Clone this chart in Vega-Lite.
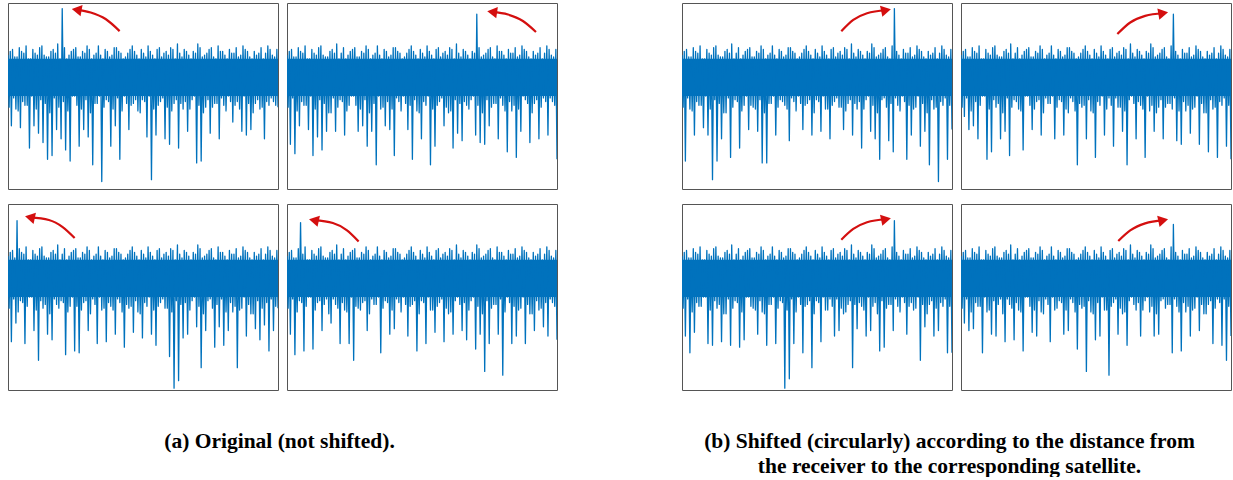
{
"$schema":"https://vega.github.io/schema/vega-lite/v6.json",
"padding":{"left":7,"top":2,"right":0,"bottom":0},
"background":"white",
"config":{"view":{"stroke":"#555555","strokeWidth":1},"title":{"font":"Liberation Serif","fontSize":21.5,"fontWeight":"bold","color":"#000000","lineHeight":25}},
"datasets":{
"core":[{"x0":0,"x1":239,"lo":50,"hi":70}],
"p1":[{"x":0,"y":72},{"x":1,"y":44},{"x":2,"y":74},{"x":3,"y":34},{"x":4,"y":75},{"x":5,"y":49},{"x":6,"y":71},{"x":7,"y":43},{"x":8,"y":71},{"x":9,"y":42},{"x":10,"y":76},{"x":11,"y":33},{"x":12,"y":74},{"x":13,"y":47},{"x":14,"y":73},{"x":15,"y":45},{"x":16,"y":77},{"x":17,"y":45},{"x":18,"y":70},{"x":19,"y":22},{"x":20,"y":70},{"x":21,"y":50},{"x":22,"y":75},{"x":23,"y":34},{"x":24,"y":73},{"x":25,"y":43},{"x":26,"y":72},{"x":27,"y":30},{"x":28,"y":76},{"x":29,"y":48},{"x":30,"y":77},{"x":31,"y":25},{"x":32,"y":72},{"x":33,"y":46},{"x":34,"y":71},{"x":35,"y":16},{"x":36,"y":71},{"x":37,"y":41},{"x":38,"y":74},{"x":39,"y":18},{"x":40,"y":75},{"x":41,"y":49},{"x":42,"y":73},{"x":43,"y":32},{"x":44,"y":78},{"x":45,"y":44},{"x":46,"y":70},{"x":47,"y":27},{"x":48,"y":97},{"x":49,"y":47},{"x":50,"y":76},{"x":51,"y":21},{"x":52,"y":70},{"x":53,"y":42},{"x":54,"y":72},{"x":55,"y":15},{"x":56,"y":74},{"x":57,"y":50},{"x":58,"y":75},{"x":59,"y":50},{"x":60,"y":76},{"x":61,"y":45},{"x":62,"y":71},{"x":63,"y":23},{"x":64,"y":71},{"x":65,"y":43},{"x":66,"y":74},{"x":67,"y":32},{"x":68,"y":73},{"x":69,"y":48},{"x":70,"y":77},{"x":71,"y":28},{"x":72,"y":75},{"x":73,"y":41},{"x":74,"y":70},{"x":75,"y":13},{"x":76,"y":72},{"x":77,"y":46},{"x":78,"y":73},{"x":79,"y":46},{"x":80,"y":77},{"x":81,"y":50},{"x":82,"y":72},{"x":83,"y":4},{"x":84,"y":70},{"x":85,"y":44},{"x":86,"y":75},{"x":87,"y":48},{"x":88,"y":74},{"x":89,"y":47},{"x":90,"y":71},{"x":91,"y":23},{"x":92,"y":72},{"x":93,"y":43},{"x":94,"y":76},{"x":95,"y":34},{"x":96,"y":76},{"x":97,"y":49},{"x":98,"y":74},{"x":99,"y":16},{"x":100,"y":73},{"x":101,"y":42},{"x":102,"y":70},{"x":103,"y":50},{"x":104,"y":71},{"x":105,"y":46},{"x":106,"y":73},{"x":107,"y":32},{"x":108,"y":75},{"x":109,"y":45},{"x":110,"y":77},{"x":111,"y":46},{"x":112,"y":74},{"x":113,"y":48},{"x":114,"y":72},{"x":115,"y":42},{"x":116,"y":70},{"x":117,"y":41},{"x":118,"y":75},{"x":119,"y":48},{"x":120,"y":73},{"x":121,"y":47},{"x":122,"y":71},{"x":123,"y":28},{"x":124,"y":77},{"x":125,"y":50},{"x":126,"y":74},{"x":127,"y":5},{"x":128,"y":72},{"x":129,"y":43},{"x":130,"y":70},{"x":131,"y":29},{"x":132,"y":75},{"x":133,"y":45},{"x":134,"y":76},{"x":135,"y":47},{"x":136,"y":71},{"x":137,"y":49},{"x":138,"y":73},{"x":139,"y":27},{"x":140,"y":74},{"x":141,"y":44},{"x":142,"y":72},{"x":143,"y":24},{"x":144,"y":76},{"x":145,"y":42},{"x":146,"y":75},{"x":147,"y":46},{"x":148,"y":70},{"x":149,"y":48},{"x":150,"y":78},{"x":151,"y":22},{"x":152,"y":73},{"x":153,"y":46},{"x":154,"y":71},{"x":155,"y":43},{"x":156,"y":75},{"x":157,"y":47},{"x":158,"y":74},{"x":159,"y":31},{"x":160,"y":72},{"x":161,"y":43},{"x":162,"y":70},{"x":163,"y":48},{"x":164,"y":74},{"x":165,"y":50},{"x":166,"y":73},{"x":167,"y":14},{"x":168,"y":78},{"x":169,"y":45},{"x":170,"y":76},{"x":171,"y":15},{"x":172,"y":71},{"x":173,"y":41},{"x":174,"y":72},{"x":175,"y":44},{"x":176,"y":73},{"x":177,"y":48},{"x":178,"y":75},{"x":179,"y":30},{"x":180,"y":76},{"x":181,"y":44},{"x":182,"y":71},{"x":183,"y":46},{"x":184,"y":70},{"x":185,"y":46},{"x":186,"y":77},{"x":187,"y":27},{"x":188,"y":74},{"x":189,"y":49},{"x":190,"y":74},{"x":191,"y":45},{"x":192,"y":72},{"x":193,"y":42},{"x":194,"y":70},{"x":195,"y":50},{"x":196,"y":75},{"x":197,"y":47},{"x":198,"y":73},{"x":199,"y":36},{"x":200,"y":73},{"x":201,"y":45},{"x":202,"y":76},{"x":203,"y":47},{"x":204,"y":71},{"x":205,"y":43},{"x":206,"y":72},{"x":207,"y":31},{"x":208,"y":77},{"x":209,"y":50},{"x":210,"y":75},{"x":211,"y":29},{"x":212,"y":74},{"x":213,"y":46},{"x":214,"y":71},{"x":215,"y":32},{"x":216,"y":70},{"x":217,"y":41},{"x":218,"y":74},{"x":219,"y":46},{"x":220,"y":72},{"x":221,"y":48},{"x":222,"y":73},{"x":223,"y":43},{"x":224,"y":76},{"x":225,"y":44},{"x":226,"y":70},{"x":227,"y":27},{"x":228,"y":73},{"x":229,"y":47},{"x":230,"y":77},{"x":231,"y":45},{"x":232,"y":75},{"x":233,"y":49},{"x":234,"y":72},{"x":235,"y":47},{"x":236,"y":71},{"x":237,"y":45},{"x":238,"y":75},{"x":239,"y":44}],
"p2":[{"x":0,"y":72},{"x":1,"y":44},{"x":2,"y":74},{"x":3,"y":24},{"x":4,"y":75},{"x":5,"y":49},{"x":6,"y":71},{"x":7,"y":19},{"x":8,"y":71},{"x":9,"y":42},{"x":10,"y":76},{"x":11,"y":34},{"x":12,"y":74},{"x":13,"y":47},{"x":14,"y":73},{"x":15,"y":45},{"x":16,"y":77},{"x":17,"y":45},{"x":18,"y":70},{"x":19,"y":32},{"x":20,"y":70},{"x":21,"y":50},{"x":22,"y":75},{"x":23,"y":18},{"x":24,"y":73},{"x":25,"y":43},{"x":26,"y":72},{"x":27,"y":28},{"x":28,"y":76},{"x":29,"y":48},{"x":30,"y":77},{"x":31,"y":21},{"x":32,"y":72},{"x":33,"y":46},{"x":34,"y":71},{"x":35,"y":31},{"x":36,"y":71},{"x":37,"y":41},{"x":38,"y":74},{"x":39,"y":41},{"x":40,"y":75},{"x":41,"y":49},{"x":42,"y":73},{"x":43,"y":31},{"x":44,"y":78},{"x":45,"y":44},{"x":46,"y":70},{"x":47,"y":48},{"x":48,"y":73},{"x":49,"y":47},{"x":50,"y":76},{"x":51,"y":29},{"x":52,"y":70},{"x":53,"y":42},{"x":54,"y":72},{"x":55,"y":45},{"x":56,"y":74},{"x":57,"y":50},{"x":58,"y":75},{"x":59,"y":50},{"x":60,"y":76},{"x":61,"y":45},{"x":62,"y":71},{"x":63,"y":31},{"x":64,"y":71},{"x":65,"y":43},{"x":66,"y":74},{"x":67,"y":34},{"x":68,"y":73},{"x":69,"y":48},{"x":70,"y":77},{"x":71,"y":23},{"x":72,"y":75},{"x":73,"y":41},{"x":74,"y":70},{"x":75,"y":31},{"x":76,"y":72},{"x":77,"y":46},{"x":78,"y":73},{"x":79,"y":13},{"x":80,"y":77},{"x":81,"y":50},{"x":82,"y":72},{"x":83,"y":43},{"x":84,"y":70},{"x":85,"y":44},{"x":86,"y":75},{"x":87,"y":34},{"x":88,"y":74},{"x":89,"y":47},{"x":90,"y":71},{"x":91,"y":32},{"x":92,"y":72},{"x":93,"y":43},{"x":94,"y":76},{"x":95,"y":18},{"x":96,"y":76},{"x":97,"y":49},{"x":98,"y":74},{"x":99,"y":47},{"x":100,"y":73},{"x":101,"y":42},{"x":102,"y":70},{"x":103,"y":50},{"x":104,"y":71},{"x":105,"y":46},{"x":106,"y":73},{"x":107,"y":32},{"x":108,"y":75},{"x":109,"y":45},{"x":110,"y":77},{"x":111,"y":16},{"x":112,"y":74},{"x":113,"y":48},{"x":114,"y":72},{"x":115,"y":42},{"x":116,"y":70},{"x":117,"y":41},{"x":118,"y":75},{"x":119,"y":27},{"x":120,"y":73},{"x":121,"y":47},{"x":122,"y":71},{"x":123,"y":45},{"x":124,"y":77},{"x":125,"y":50},{"x":126,"y":74},{"x":127,"y":13},{"x":128,"y":72},{"x":129,"y":43},{"x":130,"y":70},{"x":131,"y":23},{"x":132,"y":75},{"x":133,"y":45},{"x":134,"y":76},{"x":135,"y":47},{"x":136,"y":71},{"x":137,"y":49},{"x":138,"y":73},{"x":139,"y":34},{"x":140,"y":74},{"x":141,"y":44},{"x":142,"y":72},{"x":143,"y":41},{"x":144,"y":76},{"x":145,"y":42},{"x":146,"y":75},{"x":147,"y":22},{"x":148,"y":70},{"x":149,"y":48},{"x":150,"y":78},{"x":151,"y":30},{"x":152,"y":73},{"x":153,"y":46},{"x":154,"y":71},{"x":155,"y":26},{"x":156,"y":75},{"x":157,"y":47},{"x":158,"y":74},{"x":159,"y":45},{"x":160,"y":72},{"x":161,"y":43},{"x":162,"y":70},{"x":163,"y":48},{"x":164,"y":74},{"x":165,"y":50},{"x":166,"y":73},{"x":167,"y":29},{"x":168,"y":94},{"x":169,"y":45},{"x":170,"y":76},{"x":171,"y":25},{"x":172,"y":71},{"x":173,"y":41},{"x":174,"y":72},{"x":175,"y":24},{"x":176,"y":73},{"x":177,"y":48},{"x":178,"y":75},{"x":179,"y":34},{"x":180,"y":76},{"x":181,"y":44},{"x":182,"y":71},{"x":183,"y":46},{"x":184,"y":70},{"x":185,"y":46},{"x":186,"y":77},{"x":187,"y":27},{"x":188,"y":74},{"x":189,"y":49},{"x":190,"y":74},{"x":191,"y":45},{"x":192,"y":72},{"x":193,"y":42},{"x":194,"y":70},{"x":195,"y":20},{"x":196,"y":75},{"x":197,"y":47},{"x":198,"y":73},{"x":199,"y":42},{"x":200,"y":73},{"x":201,"y":45},{"x":202,"y":76},{"x":203,"y":17},{"x":204,"y":71},{"x":205,"y":43},{"x":206,"y":72},{"x":207,"y":31},{"x":208,"y":77},{"x":209,"y":50},{"x":210,"y":75},{"x":211,"y":48},{"x":212,"y":74},{"x":213,"y":46},{"x":214,"y":71},{"x":215,"y":25},{"x":216,"y":70},{"x":217,"y":41},{"x":218,"y":74},{"x":219,"y":46},{"x":220,"y":72},{"x":221,"y":48},{"x":222,"y":73},{"x":223,"y":27},{"x":224,"y":76},{"x":225,"y":44},{"x":226,"y":70},{"x":227,"y":49},{"x":228,"y":73},{"x":229,"y":47},{"x":230,"y":77},{"x":231,"y":29},{"x":232,"y":75},{"x":233,"y":49},{"x":234,"y":72},{"x":235,"y":47},{"x":236,"y":71},{"x":237,"y":45},{"x":238,"y":75},{"x":239,"y":16}],
"p3":[{"x":0,"y":72},{"x":1,"y":44},{"x":2,"y":74},{"x":3,"y":26},{"x":4,"y":75},{"x":5,"y":49},{"x":6,"y":71},{"x":7,"y":36},{"x":8,"y":91},{"x":9,"y":42},{"x":10,"y":76},{"x":11,"y":48},{"x":12,"y":74},{"x":13,"y":47},{"x":14,"y":73},{"x":15,"y":25},{"x":16,"y":77},{"x":17,"y":45},{"x":18,"y":70},{"x":19,"y":50},{"x":20,"y":70},{"x":21,"y":50},{"x":22,"y":75},{"x":23,"y":32},{"x":24,"y":73},{"x":25,"y":43},{"x":26,"y":72},{"x":27,"y":16},{"x":28,"y":76},{"x":29,"y":48},{"x":30,"y":77},{"x":31,"y":44},{"x":32,"y":72},{"x":33,"y":46},{"x":34,"y":71},{"x":35,"y":30},{"x":36,"y":71},{"x":37,"y":41},{"x":38,"y":74},{"x":39,"y":27},{"x":40,"y":75},{"x":41,"y":49},{"x":42,"y":73},{"x":43,"y":46},{"x":44,"y":78},{"x":45,"y":44},{"x":46,"y":70},{"x":47,"y":48},{"x":48,"y":73},{"x":49,"y":47},{"x":50,"y":76},{"x":51,"y":19},{"x":52,"y":70},{"x":53,"y":42},{"x":54,"y":72},{"x":55,"y":45},{"x":56,"y":74},{"x":57,"y":50},{"x":58,"y":75},{"x":59,"y":21},{"x":60,"y":76},{"x":61,"y":45},{"x":62,"y":71},{"x":63,"y":20},{"x":64,"y":71},{"x":65,"y":43},{"x":66,"y":74},{"x":67,"y":47},{"x":68,"y":73},{"x":69,"y":48},{"x":70,"y":77},{"x":71,"y":32},{"x":72,"y":75},{"x":73,"y":41},{"x":74,"y":70},{"x":75,"y":49},{"x":76,"y":72},{"x":77,"y":46},{"x":78,"y":73},{"x":79,"y":25},{"x":80,"y":77},{"x":81,"y":50},{"x":82,"y":72},{"x":83,"y":43},{"x":84,"y":70},{"x":85,"y":44},{"x":86,"y":75},{"x":87,"y":26},{"x":88,"y":74},{"x":89,"y":47},{"x":90,"y":71},{"x":91,"y":45},{"x":92,"y":72},{"x":93,"y":43},{"x":94,"y":76},{"x":95,"y":30},{"x":96,"y":76},{"x":97,"y":49},{"x":98,"y":74},{"x":99,"y":47},{"x":100,"y":73},{"x":101,"y":42},{"x":102,"y":70},{"x":103,"y":23},{"x":104,"y":71},{"x":105,"y":46},{"x":106,"y":73},{"x":107,"y":44},{"x":108,"y":75},{"x":109,"y":45},{"x":110,"y":77},{"x":111,"y":31},{"x":112,"y":74},{"x":113,"y":48},{"x":114,"y":72},{"x":115,"y":42},{"x":116,"y":70},{"x":117,"y":41},{"x":118,"y":75},{"x":119,"y":28},{"x":120,"y":73},{"x":121,"y":47},{"x":122,"y":71},{"x":123,"y":45},{"x":124,"y":77},{"x":125,"y":50},{"x":126,"y":74},{"x":127,"y":30},{"x":128,"y":72},{"x":129,"y":43},{"x":130,"y":70},{"x":131,"y":24},{"x":132,"y":75},{"x":133,"y":45},{"x":134,"y":76},{"x":135,"y":47},{"x":136,"y":71},{"x":137,"y":49},{"x":138,"y":73},{"x":139,"y":44},{"x":140,"y":74},{"x":141,"y":44},{"x":142,"y":72},{"x":143,"y":18},{"x":144,"y":76},{"x":145,"y":42},{"x":146,"y":75},{"x":147,"y":1},{"x":148,"y":70},{"x":149,"y":48},{"x":150,"y":78},{"x":151,"y":5},{"x":152,"y":73},{"x":153,"y":46},{"x":154,"y":71},{"x":155,"y":28},{"x":156,"y":75},{"x":157,"y":47},{"x":158,"y":74},{"x":159,"y":30},{"x":160,"y":72},{"x":161,"y":43},{"x":162,"y":70},{"x":163,"y":48},{"x":164,"y":74},{"x":165,"y":50},{"x":166,"y":73},{"x":167,"y":34},{"x":168,"y":78},{"x":169,"y":45},{"x":170,"y":76},{"x":171,"y":12},{"x":172,"y":71},{"x":173,"y":41},{"x":174,"y":72},{"x":175,"y":32},{"x":176,"y":73},{"x":177,"y":48},{"x":178,"y":75},{"x":179,"y":49},{"x":180,"y":76},{"x":181,"y":44},{"x":182,"y":71},{"x":183,"y":23},{"x":184,"y":70},{"x":185,"y":46},{"x":186,"y":77},{"x":187,"y":34},{"x":188,"y":74},{"x":189,"y":49},{"x":190,"y":74},{"x":191,"y":24},{"x":192,"y":72},{"x":193,"y":42},{"x":194,"y":70},{"x":195,"y":32},{"x":196,"y":75},{"x":197,"y":47},{"x":198,"y":73},{"x":199,"y":42},{"x":200,"y":73},{"x":201,"y":45},{"x":202,"y":76},{"x":203,"y":12},{"x":204,"y":71},{"x":205,"y":43},{"x":206,"y":72},{"x":207,"y":44},{"x":208,"y":77},{"x":209,"y":50},{"x":210,"y":75},{"x":211,"y":29},{"x":212,"y":74},{"x":213,"y":46},{"x":214,"y":71},{"x":215,"y":41},{"x":216,"y":70},{"x":217,"y":41},{"x":218,"y":74},{"x":219,"y":33},{"x":220,"y":72},{"x":221,"y":48},{"x":222,"y":73},{"x":223,"y":27},{"x":224,"y":76},{"x":225,"y":44},{"x":226,"y":70},{"x":227,"y":35},{"x":228,"y":73},{"x":229,"y":47},{"x":230,"y":77},{"x":231,"y":21},{"x":232,"y":75},{"x":233,"y":49},{"x":234,"y":72},{"x":235,"y":32},{"x":236,"y":71},{"x":237,"y":45},{"x":238,"y":75},{"x":239,"y":44}],
"p4":[{"x":0,"y":72},{"x":1,"y":44},{"x":2,"y":74},{"x":3,"y":30},{"x":4,"y":75},{"x":5,"y":49},{"x":6,"y":71},{"x":7,"y":19},{"x":8,"y":71},{"x":9,"y":42},{"x":10,"y":76},{"x":11,"y":48},{"x":12,"y":90},{"x":13,"y":47},{"x":14,"y":73},{"x":15,"y":21},{"x":16,"y":77},{"x":17,"y":45},{"x":18,"y":70},{"x":19,"y":50},{"x":20,"y":70},{"x":21,"y":50},{"x":22,"y":75},{"x":23,"y":22},{"x":24,"y":73},{"x":25,"y":43},{"x":26,"y":72},{"x":27,"y":47},{"x":28,"y":76},{"x":29,"y":48},{"x":30,"y":77},{"x":31,"y":32},{"x":32,"y":72},{"x":33,"y":46},{"x":34,"y":71},{"x":35,"y":49},{"x":36,"y":71},{"x":37,"y":41},{"x":38,"y":74},{"x":39,"y":36},{"x":40,"y":75},{"x":41,"y":49},{"x":42,"y":73},{"x":43,"y":46},{"x":44,"y":78},{"x":45,"y":44},{"x":46,"y":70},{"x":47,"y":25},{"x":48,"y":73},{"x":49,"y":47},{"x":50,"y":76},{"x":51,"y":43},{"x":52,"y":70},{"x":53,"y":42},{"x":54,"y":72},{"x":55,"y":25},{"x":56,"y":74},{"x":57,"y":50},{"x":58,"y":75},{"x":59,"y":16},{"x":60,"y":76},{"x":61,"y":45},{"x":62,"y":71},{"x":63,"y":44},{"x":64,"y":71},{"x":65,"y":43},{"x":66,"y":74},{"x":67,"y":47},{"x":68,"y":73},{"x":69,"y":48},{"x":70,"y":77},{"x":71,"y":32},{"x":72,"y":75},{"x":73,"y":41},{"x":74,"y":70},{"x":75,"y":49},{"x":76,"y":72},{"x":77,"y":46},{"x":78,"y":73},{"x":79,"y":46},{"x":80,"y":77},{"x":81,"y":50},{"x":82,"y":72},{"x":83,"y":20},{"x":84,"y":70},{"x":85,"y":44},{"x":86,"y":75},{"x":87,"y":48},{"x":88,"y":74},{"x":89,"y":47},{"x":90,"y":71},{"x":91,"y":30},{"x":92,"y":72},{"x":93,"y":43},{"x":94,"y":76},{"x":95,"y":33},{"x":96,"y":76},{"x":97,"y":49},{"x":98,"y":74},{"x":99,"y":47},{"x":100,"y":73},{"x":101,"y":42},{"x":102,"y":70},{"x":103,"y":50},{"x":104,"y":71},{"x":105,"y":46},{"x":106,"y":73},{"x":107,"y":29},{"x":108,"y":75},{"x":109,"y":45},{"x":110,"y":77},{"x":111,"y":46},{"x":112,"y":74},{"x":113,"y":48},{"x":114,"y":72},{"x":115,"y":21},{"x":116,"y":70},{"x":117,"y":41},{"x":118,"y":75},{"x":119,"y":48},{"x":120,"y":73},{"x":121,"y":47},{"x":122,"y":71},{"x":123,"y":25},{"x":124,"y":77},{"x":125,"y":50},{"x":126,"y":74},{"x":127,"y":43},{"x":128,"y":72},{"x":129,"y":43},{"x":130,"y":70},{"x":131,"y":31},{"x":132,"y":75},{"x":133,"y":45},{"x":134,"y":76},{"x":135,"y":47},{"x":136,"y":71},{"x":137,"y":49},{"x":138,"y":73},{"x":139,"y":26},{"x":140,"y":74},{"x":141,"y":44},{"x":142,"y":72},{"x":143,"y":41},{"x":144,"y":76},{"x":145,"y":42},{"x":146,"y":75},{"x":147,"y":30},{"x":148,"y":70},{"x":149,"y":48},{"x":150,"y":78},{"x":151,"y":50},{"x":152,"y":73},{"x":153,"y":46},{"x":154,"y":71},{"x":155,"y":32},{"x":156,"y":75},{"x":157,"y":47},{"x":158,"y":74},{"x":159,"y":27},{"x":160,"y":72},{"x":161,"y":43},{"x":162,"y":70},{"x":163,"y":48},{"x":164,"y":74},{"x":165,"y":50},{"x":166,"y":73},{"x":167,"y":22},{"x":168,"y":78},{"x":169,"y":45},{"x":170,"y":76},{"x":171,"y":30},{"x":172,"y":71},{"x":173,"y":41},{"x":174,"y":72},{"x":175,"y":10},{"x":176,"y":73},{"x":177,"y":48},{"x":178,"y":75},{"x":179,"y":25},{"x":180,"y":76},{"x":181,"y":44},{"x":182,"y":71},{"x":183,"y":46},{"x":184,"y":70},{"x":185,"y":46},{"x":186,"y":77},{"x":187,"y":30},{"x":188,"y":74},{"x":189,"y":49},{"x":190,"y":74},{"x":191,"y":8},{"x":192,"y":72},{"x":193,"y":42},{"x":194,"y":70},{"x":195,"y":50},{"x":196,"y":75},{"x":197,"y":47},{"x":198,"y":73},{"x":199,"y":25},{"x":200,"y":73},{"x":201,"y":45},{"x":202,"y":76},{"x":203,"y":29},{"x":204,"y":71},{"x":205,"y":43},{"x":206,"y":72},{"x":207,"y":44},{"x":208,"y":77},{"x":209,"y":50},{"x":210,"y":75},{"x":211,"y":25},{"x":212,"y":74},{"x":213,"y":46},{"x":214,"y":71},{"x":215,"y":41},{"x":216,"y":70},{"x":217,"y":41},{"x":218,"y":74},{"x":219,"y":32},{"x":220,"y":72},{"x":221,"y":48},{"x":222,"y":73},{"x":223,"y":43},{"x":224,"y":76},{"x":225,"y":44},{"x":226,"y":70},{"x":227,"y":34},{"x":228,"y":73},{"x":229,"y":47},{"x":230,"y":77},{"x":231,"y":29},{"x":232,"y":75},{"x":233,"y":49},{"x":234,"y":72},{"x":235,"y":47},{"x":236,"y":71},{"x":237,"y":45},{"x":238,"y":75},{"x":239,"y":27}],
"p5":[{"x":0,"y":72},{"x":1,"y":44},{"x":2,"y":74},{"x":3,"y":15},{"x":4,"y":75},{"x":5,"y":49},{"x":6,"y":71},{"x":7,"y":43},{"x":8,"y":71},{"x":9,"y":42},{"x":10,"y":76},{"x":11,"y":29},{"x":12,"y":74},{"x":13,"y":47},{"x":14,"y":73},{"x":15,"y":45},{"x":16,"y":77},{"x":17,"y":45},{"x":18,"y":70},{"x":19,"y":33},{"x":20,"y":70},{"x":21,"y":50},{"x":22,"y":75},{"x":23,"y":29},{"x":24,"y":73},{"x":25,"y":43},{"x":26,"y":72},{"x":27,"y":5},{"x":28,"y":76},{"x":29,"y":48},{"x":30,"y":77},{"x":31,"y":15},{"x":32,"y":72},{"x":33,"y":46},{"x":34,"y":71},{"x":35,"y":27},{"x":36,"y":71},{"x":37,"y":41},{"x":38,"y":74},{"x":39,"y":41},{"x":40,"y":75},{"x":41,"y":49},{"x":42,"y":73},{"x":43,"y":17},{"x":44,"y":78},{"x":45,"y":44},{"x":46,"y":70},{"x":47,"y":48},{"x":48,"y":73},{"x":49,"y":47},{"x":50,"y":76},{"x":51,"y":22},{"x":52,"y":70},{"x":53,"y":42},{"x":54,"y":72},{"x":55,"y":45},{"x":56,"y":74},{"x":57,"y":50},{"x":58,"y":75},{"x":59,"y":32},{"x":60,"y":76},{"x":61,"y":45},{"x":62,"y":71},{"x":63,"y":44},{"x":64,"y":71},{"x":65,"y":43},{"x":66,"y":74},{"x":67,"y":31},{"x":68,"y":73},{"x":69,"y":48},{"x":70,"y":77},{"x":71,"y":14},{"x":72,"y":75},{"x":73,"y":41},{"x":74,"y":70},{"x":75,"y":14},{"x":76,"y":72},{"x":77,"y":46},{"x":78,"y":73},{"x":79,"y":46},{"x":80,"y":77},{"x":81,"y":50},{"x":82,"y":72},{"x":83,"y":29},{"x":84,"y":70},{"x":85,"y":44},{"x":86,"y":75},{"x":87,"y":48},{"x":88,"y":74},{"x":89,"y":47},{"x":90,"y":71},{"x":91,"y":45},{"x":92,"y":72},{"x":93,"y":43},{"x":94,"y":76},{"x":95,"y":26},{"x":96,"y":76},{"x":97,"y":49},{"x":98,"y":74},{"x":99,"y":47},{"x":100,"y":73},{"x":101,"y":42},{"x":102,"y":70},{"x":103,"y":50},{"x":104,"y":71},{"x":105,"y":46},{"x":106,"y":73},{"x":107,"y":32},{"x":108,"y":75},{"x":109,"y":45},{"x":110,"y":77},{"x":111,"y":46},{"x":112,"y":74},{"x":113,"y":48},{"x":114,"y":72},{"x":115,"y":29},{"x":116,"y":70},{"x":117,"y":41},{"x":118,"y":75},{"x":119,"y":48},{"x":120,"y":73},{"x":121,"y":47},{"x":122,"y":71},{"x":123,"y":31},{"x":124,"y":77},{"x":125,"y":50},{"x":126,"y":74},{"x":127,"y":43},{"x":128,"y":72},{"x":129,"y":43},{"x":130,"y":70},{"x":131,"y":27},{"x":132,"y":75},{"x":133,"y":45},{"x":134,"y":76},{"x":135,"y":47},{"x":136,"y":71},{"x":137,"y":49},{"x":138,"y":73},{"x":139,"y":44},{"x":140,"y":74},{"x":141,"y":44},{"x":142,"y":72},{"x":143,"y":32},{"x":144,"y":76},{"x":145,"y":42},{"x":146,"y":75},{"x":147,"y":46},{"x":148,"y":70},{"x":149,"y":48},{"x":150,"y":78},{"x":151,"y":29},{"x":152,"y":73},{"x":153,"y":46},{"x":154,"y":71},{"x":155,"y":43},{"x":156,"y":75},{"x":157,"y":47},{"x":158,"y":74},{"x":159,"y":22},{"x":160,"y":72},{"x":161,"y":43},{"x":162,"y":70},{"x":163,"y":48},{"x":164,"y":74},{"x":165,"y":50},{"x":166,"y":73},{"x":167,"y":31},{"x":168,"y":78},{"x":169,"y":45},{"x":170,"y":76},{"x":171,"y":27},{"x":172,"y":71},{"x":173,"y":41},{"x":174,"y":72},{"x":175,"y":16},{"x":176,"y":73},{"x":177,"y":48},{"x":178,"y":75},{"x":179,"y":49},{"x":180,"y":76},{"x":181,"y":44},{"x":182,"y":71},{"x":183,"y":26},{"x":184,"y":70},{"x":185,"y":46},{"x":186,"y":77},{"x":187,"y":20},{"x":188,"y":97},{"x":189,"y":49},{"x":190,"y":74},{"x":191,"y":45},{"x":192,"y":72},{"x":193,"y":42},{"x":194,"y":70},{"x":195,"y":50},{"x":196,"y":75},{"x":197,"y":47},{"x":198,"y":73},{"x":199,"y":16},{"x":200,"y":73},{"x":201,"y":45},{"x":202,"y":76},{"x":203,"y":29},{"x":204,"y":71},{"x":205,"y":43},{"x":206,"y":72},{"x":207,"y":44},{"x":208,"y":77},{"x":209,"y":50},{"x":210,"y":75},{"x":211,"y":23},{"x":212,"y":74},{"x":213,"y":46},{"x":214,"y":71},{"x":215,"y":31},{"x":216,"y":70},{"x":217,"y":41},{"x":218,"y":74},{"x":219,"y":13},{"x":220,"y":72},{"x":221,"y":48},{"x":222,"y":73},{"x":223,"y":43},{"x":224,"y":76},{"x":225,"y":44},{"x":226,"y":70},{"x":227,"y":4},{"x":228,"y":73},{"x":229,"y":47},{"x":230,"y":77},{"x":231,"y":45},{"x":232,"y":75},{"x":233,"y":49},{"x":234,"y":72},{"x":235,"y":16},{"x":236,"y":71},{"x":237,"y":45},{"x":238,"y":75},{"x":239,"y":32}],
"p6":[{"x":0,"y":72},{"x":1,"y":44},{"x":2,"y":74},{"x":3,"y":39},{"x":4,"y":75},{"x":5,"y":49},{"x":6,"y":71},{"x":7,"y":32},{"x":8,"y":71},{"x":9,"y":42},{"x":10,"y":76},{"x":11,"y":34},{"x":12,"y":74},{"x":13,"y":47},{"x":14,"y":73},{"x":15,"y":27},{"x":16,"y":77},{"x":17,"y":45},{"x":18,"y":70},{"x":19,"y":50},{"x":20,"y":70},{"x":21,"y":50},{"x":22,"y":75},{"x":23,"y":16},{"x":24,"y":73},{"x":25,"y":43},{"x":26,"y":72},{"x":27,"y":20},{"x":28,"y":76},{"x":29,"y":48},{"x":30,"y":77},{"x":31,"y":44},{"x":32,"y":72},{"x":33,"y":46},{"x":34,"y":71},{"x":35,"y":27},{"x":36,"y":71},{"x":37,"y":41},{"x":38,"y":74},{"x":39,"y":31},{"x":40,"y":75},{"x":41,"y":49},{"x":42,"y":73},{"x":43,"y":18},{"x":44,"y":78},{"x":45,"y":44},{"x":46,"y":70},{"x":47,"y":48},{"x":48,"y":73},{"x":49,"y":47},{"x":50,"y":76},{"x":51,"y":43},{"x":52,"y":70},{"x":53,"y":42},{"x":54,"y":72},{"x":55,"y":21},{"x":56,"y":74},{"x":57,"y":50},{"x":58,"y":75},{"x":59,"y":50},{"x":60,"y":76},{"x":61,"y":45},{"x":62,"y":71},{"x":63,"y":32},{"x":64,"y":71},{"x":65,"y":43},{"x":66,"y":74},{"x":67,"y":47},{"x":68,"y":73},{"x":69,"y":48},{"x":70,"y":77},{"x":71,"y":29},{"x":72,"y":75},{"x":73,"y":41},{"x":74,"y":70},{"x":75,"y":49},{"x":76,"y":72},{"x":77,"y":46},{"x":78,"y":73},{"x":79,"y":46},{"x":80,"y":77},{"x":81,"y":50},{"x":82,"y":72},{"x":83,"y":27},{"x":84,"y":70},{"x":85,"y":44},{"x":86,"y":75},{"x":87,"y":48},{"x":88,"y":74},{"x":89,"y":47},{"x":90,"y":71},{"x":91,"y":29},{"x":92,"y":72},{"x":93,"y":43},{"x":94,"y":76},{"x":95,"y":41},{"x":96,"y":76},{"x":97,"y":49},{"x":98,"y":74},{"x":99,"y":47},{"x":100,"y":73},{"x":101,"y":42},{"x":102,"y":70},{"x":103,"y":13},{"x":104,"y":71},{"x":105,"y":46},{"x":106,"y":73},{"x":107,"y":44},{"x":108,"y":75},{"x":109,"y":45},{"x":110,"y":77},{"x":111,"y":27},{"x":112,"y":74},{"x":113,"y":48},{"x":114,"y":72},{"x":115,"y":42},{"x":116,"y":70},{"x":117,"y":41},{"x":118,"y":75},{"x":119,"y":17},{"x":120,"y":73},{"x":121,"y":47},{"x":122,"y":71},{"x":123,"y":45},{"x":124,"y":77},{"x":125,"y":50},{"x":126,"y":74},{"x":127,"y":29},{"x":128,"y":72},{"x":129,"y":43},{"x":130,"y":70},{"x":131,"y":49},{"x":132,"y":75},{"x":133,"y":45},{"x":134,"y":76},{"x":135,"y":23},{"x":136,"y":71},{"x":137,"y":49},{"x":138,"y":73},{"x":139,"y":44},{"x":140,"y":74},{"x":141,"y":44},{"x":142,"y":72},{"x":143,"y":31},{"x":144,"y":76},{"x":145,"y":42},{"x":146,"y":75},{"x":147,"y":13},{"x":148,"y":70},{"x":149,"y":48},{"x":150,"y":78},{"x":151,"y":50},{"x":152,"y":73},{"x":153,"y":46},{"x":154,"y":71},{"x":155,"y":27},{"x":156,"y":75},{"x":157,"y":47},{"x":158,"y":74},{"x":159,"y":45},{"x":160,"y":72},{"x":161,"y":43},{"x":162,"y":70},{"x":163,"y":17},{"x":164,"y":74},{"x":165,"y":50},{"x":166,"y":73},{"x":167,"y":42},{"x":168,"y":78},{"x":169,"y":45},{"x":170,"y":76},{"x":171,"y":31},{"x":172,"y":71},{"x":173,"y":41},{"x":174,"y":72},{"x":175,"y":44},{"x":176,"y":73},{"x":177,"y":48},{"x":178,"y":75},{"x":179,"y":27},{"x":180,"y":76},{"x":181,"y":44},{"x":182,"y":71},{"x":183,"y":46},{"x":184,"y":70},{"x":185,"y":46},{"x":186,"y":77},{"x":187,"y":43},{"x":188,"y":94},{"x":189,"y":49},{"x":190,"y":74},{"x":191,"y":26},{"x":192,"y":72},{"x":193,"y":42},{"x":194,"y":70},{"x":195,"y":24},{"x":196,"y":75},{"x":197,"y":47},{"x":198,"y":73},{"x":199,"y":42},{"x":200,"y":73},{"x":201,"y":45},{"x":202,"y":76},{"x":203,"y":30},{"x":204,"y":71},{"x":205,"y":43},{"x":206,"y":72},{"x":207,"y":44},{"x":208,"y":77},{"x":209,"y":50},{"x":210,"y":75},{"x":211,"y":24},{"x":212,"y":74},{"x":213,"y":46},{"x":214,"y":71},{"x":215,"y":41},{"x":216,"y":70},{"x":217,"y":41},{"x":218,"y":74},{"x":219,"y":20},{"x":220,"y":72},{"x":221,"y":48},{"x":222,"y":73},{"x":223,"y":43},{"x":224,"y":76},{"x":225,"y":44},{"x":226,"y":70},{"x":227,"y":17},{"x":228,"y":73},{"x":229,"y":47},{"x":230,"y":77},{"x":231,"y":45},{"x":232,"y":75},{"x":233,"y":49},{"x":234,"y":72},{"x":235,"y":23},{"x":236,"y":71},{"x":237,"y":45},{"x":238,"y":75},{"x":239,"y":16}],
"p7":[{"x":0,"y":72},{"x":1,"y":44},{"x":2,"y":74},{"x":3,"y":29},{"x":4,"y":75},{"x":5,"y":49},{"x":6,"y":71},{"x":7,"y":20},{"x":8,"y":71},{"x":9,"y":42},{"x":10,"y":76},{"x":11,"y":31},{"x":12,"y":74},{"x":13,"y":47},{"x":14,"y":73},{"x":15,"y":45},{"x":16,"y":77},{"x":17,"y":45},{"x":18,"y":70},{"x":19,"y":50},{"x":20,"y":70},{"x":21,"y":50},{"x":22,"y":75},{"x":23,"y":25},{"x":24,"y":73},{"x":25,"y":43},{"x":26,"y":72},{"x":27,"y":24},{"x":28,"y":76},{"x":29,"y":48},{"x":30,"y":77},{"x":31,"y":44},{"x":32,"y":72},{"x":33,"y":46},{"x":34,"y":71},{"x":35,"y":26},{"x":36,"y":71},{"x":37,"y":41},{"x":38,"y":74},{"x":39,"y":41},{"x":40,"y":75},{"x":41,"y":49},{"x":42,"y":73},{"x":43,"y":24},{"x":44,"y":78},{"x":45,"y":44},{"x":46,"y":70},{"x":47,"y":48},{"x":48,"y":73},{"x":49,"y":47},{"x":50,"y":76},{"x":51,"y":23},{"x":52,"y":70},{"x":53,"y":42},{"x":54,"y":72},{"x":55,"y":27},{"x":56,"y":74},{"x":57,"y":50},{"x":58,"y":75},{"x":59,"y":50},{"x":60,"y":76},{"x":61,"y":45},{"x":62,"y":71},{"x":63,"y":44},{"x":64,"y":71},{"x":65,"y":43},{"x":66,"y":74},{"x":67,"y":30},{"x":68,"y":73},{"x":69,"y":48},{"x":70,"y":77},{"x":71,"y":42},{"x":72,"y":75},{"x":73,"y":41},{"x":74,"y":70},{"x":75,"y":24},{"x":76,"y":72},{"x":77,"y":46},{"x":78,"y":73},{"x":79,"y":46},{"x":80,"y":77},{"x":81,"y":50},{"x":82,"y":72},{"x":83,"y":25},{"x":84,"y":70},{"x":85,"y":44},{"x":86,"y":75},{"x":87,"y":48},{"x":88,"y":74},{"x":89,"y":47},{"x":90,"y":71},{"x":91,"y":1},{"x":92,"y":72},{"x":93,"y":43},{"x":94,"y":76},{"x":95,"y":6},{"x":96,"y":76},{"x":97,"y":49},{"x":98,"y":74},{"x":99,"y":25},{"x":100,"y":73},{"x":101,"y":42},{"x":102,"y":70},{"x":103,"y":50},{"x":104,"y":71},{"x":105,"y":46},{"x":106,"y":73},{"x":107,"y":20},{"x":108,"y":75},{"x":109,"y":45},{"x":110,"y":77},{"x":111,"y":46},{"x":112,"y":74},{"x":113,"y":48},{"x":114,"y":72},{"x":115,"y":12},{"x":116,"y":70},{"x":117,"y":41},{"x":118,"y":75},{"x":119,"y":48},{"x":120,"y":73},{"x":121,"y":47},{"x":122,"y":71},{"x":123,"y":26},{"x":124,"y":77},{"x":125,"y":50},{"x":126,"y":74},{"x":127,"y":43},{"x":128,"y":72},{"x":129,"y":43},{"x":130,"y":70},{"x":131,"y":49},{"x":132,"y":75},{"x":133,"y":45},{"x":134,"y":76},{"x":135,"y":29},{"x":136,"y":71},{"x":137,"y":49},{"x":138,"y":73},{"x":139,"y":32},{"x":140,"y":74},{"x":141,"y":44},{"x":142,"y":72},{"x":143,"y":41},{"x":144,"y":76},{"x":145,"y":42},{"x":146,"y":75},{"x":147,"y":46},{"x":148,"y":70},{"x":149,"y":48},{"x":150,"y":78},{"x":151,"y":12},{"x":152,"y":73},{"x":153,"y":46},{"x":154,"y":71},{"x":155,"y":33},{"x":156,"y":75},{"x":157,"y":47},{"x":158,"y":74},{"x":159,"y":45},{"x":160,"y":72},{"x":161,"y":43},{"x":162,"y":70},{"x":163,"y":29},{"x":164,"y":74},{"x":165,"y":50},{"x":166,"y":73},{"x":167,"y":32},{"x":168,"y":78},{"x":169,"y":45},{"x":170,"y":76},{"x":171,"y":47},{"x":172,"y":71},{"x":173,"y":41},{"x":174,"y":72},{"x":175,"y":21},{"x":176,"y":73},{"x":177,"y":48},{"x":178,"y":75},{"x":179,"y":23},{"x":180,"y":76},{"x":181,"y":44},{"x":182,"y":71},{"x":183,"y":46},{"x":184,"y":70},{"x":185,"y":46},{"x":186,"y":77},{"x":187,"y":32},{"x":188,"y":91},{"x":189,"y":49},{"x":190,"y":74},{"x":191,"y":45},{"x":192,"y":72},{"x":193,"y":42},{"x":194,"y":70},{"x":195,"y":50},{"x":196,"y":75},{"x":197,"y":47},{"x":198,"y":73},{"x":199,"y":30},{"x":200,"y":73},{"x":201,"y":45},{"x":202,"y":76},{"x":203,"y":47},{"x":204,"y":71},{"x":205,"y":43},{"x":206,"y":72},{"x":207,"y":44},{"x":208,"y":77},{"x":209,"y":50},{"x":210,"y":75},{"x":211,"y":16},{"x":212,"y":74},{"x":213,"y":46},{"x":214,"y":71},{"x":215,"y":34},{"x":216,"y":70},{"x":217,"y":41},{"x":218,"y":74},{"x":219,"y":46},{"x":220,"y":72},{"x":221,"y":48},{"x":222,"y":73},{"x":223,"y":29},{"x":224,"y":76},{"x":225,"y":44},{"x":226,"y":70},{"x":227,"y":32},{"x":228,"y":73},{"x":229,"y":47},{"x":230,"y":77},{"x":231,"y":45},{"x":232,"y":75},{"x":233,"y":49},{"x":234,"y":72},{"x":235,"y":20},{"x":236,"y":71},{"x":237,"y":45},{"x":238,"y":75},{"x":239,"y":20}],
"p8":[{"x":0,"y":72},{"x":1,"y":44},{"x":2,"y":74},{"x":3,"y":36},{"x":4,"y":75},{"x":5,"y":49},{"x":6,"y":71},{"x":7,"y":32},{"x":8,"y":71},{"x":9,"y":42},{"x":10,"y":76},{"x":11,"y":33},{"x":12,"y":74},{"x":13,"y":47},{"x":14,"y":73},{"x":15,"y":45},{"x":16,"y":77},{"x":17,"y":45},{"x":18,"y":70},{"x":19,"y":20},{"x":20,"y":70},{"x":21,"y":50},{"x":22,"y":75},{"x":23,"y":42},{"x":24,"y":73},{"x":25,"y":43},{"x":26,"y":72},{"x":27,"y":30},{"x":28,"y":76},{"x":29,"y":48},{"x":30,"y":77},{"x":31,"y":29},{"x":32,"y":72},{"x":33,"y":46},{"x":34,"y":71},{"x":35,"y":49},{"x":36,"y":71},{"x":37,"y":41},{"x":38,"y":74},{"x":39,"y":26},{"x":40,"y":75},{"x":41,"y":49},{"x":42,"y":73},{"x":43,"y":46},{"x":44,"y":78},{"x":45,"y":44},{"x":46,"y":70},{"x":47,"y":27},{"x":48,"y":73},{"x":49,"y":47},{"x":50,"y":76},{"x":51,"y":43},{"x":52,"y":70},{"x":53,"y":42},{"x":54,"y":72},{"x":55,"y":21},{"x":56,"y":74},{"x":57,"y":50},{"x":58,"y":75},{"x":59,"y":50},{"x":60,"y":76},{"x":61,"y":45},{"x":62,"y":71},{"x":63,"y":31},{"x":64,"y":71},{"x":65,"y":43},{"x":66,"y":74},{"x":67,"y":29},{"x":68,"y":73},{"x":69,"y":48},{"x":70,"y":77},{"x":71,"y":42},{"x":72,"y":75},{"x":73,"y":41},{"x":74,"y":70},{"x":75,"y":49},{"x":76,"y":72},{"x":77,"y":46},{"x":78,"y":73},{"x":79,"y":26},{"x":80,"y":77},{"x":81,"y":50},{"x":82,"y":72},{"x":83,"y":43},{"x":84,"y":70},{"x":85,"y":44},{"x":86,"y":75},{"x":87,"y":48},{"x":88,"y":74},{"x":89,"y":47},{"x":90,"y":71},{"x":91,"y":30},{"x":92,"y":72},{"x":93,"y":43},{"x":94,"y":76},{"x":95,"y":32},{"x":96,"y":76},{"x":97,"y":49},{"x":98,"y":74},{"x":99,"y":47},{"x":100,"y":73},{"x":101,"y":42},{"x":102,"y":70},{"x":103,"y":22},{"x":104,"y":71},{"x":105,"y":46},{"x":106,"y":73},{"x":107,"y":44},{"x":108,"y":75},{"x":109,"y":45},{"x":110,"y":77},{"x":111,"y":10},{"x":112,"y":74},{"x":113,"y":48},{"x":114,"y":72},{"x":115,"y":42},{"x":116,"y":70},{"x":117,"y":41},{"x":118,"y":75},{"x":119,"y":27},{"x":120,"y":73},{"x":121,"y":47},{"x":122,"y":71},{"x":123,"y":29},{"x":124,"y":77},{"x":125,"y":50},{"x":126,"y":74},{"x":127,"y":43},{"x":128,"y":72},{"x":129,"y":43},{"x":130,"y":70},{"x":131,"y":8},{"x":132,"y":75},{"x":133,"y":45},{"x":134,"y":76},{"x":135,"y":47},{"x":136,"y":71},{"x":137,"y":49},{"x":138,"y":73},{"x":139,"y":30},{"x":140,"y":74},{"x":141,"y":44},{"x":142,"y":72},{"x":143,"y":41},{"x":144,"y":76},{"x":145,"y":42},{"x":146,"y":75},{"x":147,"y":24},{"x":148,"y":70},{"x":149,"y":48},{"x":150,"y":78},{"x":151,"y":50},{"x":152,"y":73},{"x":153,"y":46},{"x":154,"y":71},{"x":155,"y":43},{"x":156,"y":75},{"x":157,"y":47},{"x":158,"y":74},{"x":159,"y":29},{"x":160,"y":72},{"x":161,"y":43},{"x":162,"y":70},{"x":163,"y":48},{"x":164,"y":74},{"x":165,"y":50},{"x":166,"y":73},{"x":167,"y":42},{"x":168,"y":78},{"x":169,"y":45},{"x":170,"y":76},{"x":171,"y":29},{"x":172,"y":71},{"x":173,"y":41},{"x":174,"y":72},{"x":175,"y":30},{"x":176,"y":73},{"x":177,"y":48},{"x":178,"y":75},{"x":179,"y":49},{"x":180,"y":76},{"x":181,"y":44},{"x":182,"y":71},{"x":183,"y":46},{"x":184,"y":70},{"x":185,"y":46},{"x":186,"y":77},{"x":187,"y":20},{"x":188,"y":89},{"x":189,"y":49},{"x":190,"y":74},{"x":191,"y":45},{"x":192,"y":72},{"x":193,"y":42},{"x":194,"y":70},{"x":195,"y":21},{"x":196,"y":75},{"x":197,"y":47},{"x":198,"y":73},{"x":199,"y":42},{"x":200,"y":73},{"x":201,"y":45},{"x":202,"y":76},{"x":203,"y":29},{"x":204,"y":71},{"x":205,"y":43},{"x":206,"y":72},{"x":207,"y":44},{"x":208,"y":77},{"x":209,"y":50},{"x":210,"y":75},{"x":211,"y":32},{"x":212,"y":74},{"x":213,"y":46},{"x":214,"y":71},{"x":215,"y":41},{"x":216,"y":70},{"x":217,"y":41},{"x":218,"y":74},{"x":219,"y":46},{"x":220,"y":72},{"x":221,"y":48},{"x":222,"y":73},{"x":223,"y":25},{"x":224,"y":76},{"x":225,"y":44},{"x":226,"y":70},{"x":227,"y":49},{"x":228,"y":73},{"x":229,"y":47},{"x":230,"y":77},{"x":231,"y":24},{"x":232,"y":75},{"x":233,"y":49},{"x":234,"y":72},{"x":235,"y":16},{"x":236,"y":71},{"x":237,"y":45},{"x":238,"y":75},{"x":239,"y":29}]
},
"spacing":123,
"hconcat":[
{"spacing":13,"title":{"text":"(a) Original (not shifted).","orient":"bottom","anchor":"middle","offset":40,"dx":-3},
"vconcat":[
{"spacing":7,"hconcat":[
{"width":270,"height":186,"encoding":{"x":{"field":"x","type":"quantitative","scale":{"domain":[0,239],"nice":false},"axis":null},"y":{"field":"y","type":"quantitative","scale":{"domain":[0,100],"nice":false},"axis":null}},
"layer":[{"data":{"name":"core"},"mark":{"type":"rect","color":"#0072BD","clip":true},"encoding":{"x":{"field":"x0","type":"quantitative","axis":null},"x2":{"field":"x1"},"y":{"field":"lo","type":"quantitative","axis":null},"y2":{"field":"hi"}}},
{"data":{"name":"p1"},"mark":{"type":"line","color":"#0072BD","strokeWidth":1.3,"strokeJoin":"round","clip":true}},
{"data":{"values":[{"x":98.8,"y":84.9},{"x":86.4,"y":91.4},{"x":73.2,"y":94.9},{"x":60.8,"y":96.3}]},"mark":{"type":"line","color":"#d40f0f","strokeWidth":2.2,"interpolate":"monotone","clip":true}},
{"data":{"values":[{"x":60.8,"y":96.3}]},"mark":{"type":"point","shape":"triangle-left","filled":true,"opacity":1,"color":"#d40f0f","size":130,"angle":10,"clip":true}}]},
{"width":270,"height":186,"encoding":{"x":{"field":"x","type":"quantitative","scale":{"domain":[0,239],"nice":false},"axis":null},"y":{"field":"y","type":"quantitative","scale":{"domain":[0,100],"nice":false},"axis":null}},
"layer":[{"data":{"name":"core"},"mark":{"type":"rect","color":"#0072BD","clip":true},"encoding":{"x":{"field":"x0","type":"quantitative","axis":null},"x2":{"field":"x1"},"y":{"field":"lo","type":"quantitative","axis":null},"y2":{"field":"hi"}}},
{"data":{"name":"p2"},"mark":{"type":"line","color":"#0072BD","strokeWidth":1.3,"strokeJoin":"round","clip":true}},
{"data":{"values":[{"x":220.4,"y":84.4},{"x":208.8,"y":90.3},{"x":195.6,"y":93.8},{"x":181.6,"y":95.2}]},"mark":{"type":"line","color":"#d40f0f","strokeWidth":2.2,"interpolate":"monotone","clip":true}},
{"data":{"values":[{"x":181.6,"y":95.2}]},"mark":{"type":"point","shape":"triangle-left","filled":true,"opacity":1,"color":"#d40f0f","size":130,"angle":8,"clip":true}}]}
]},
{"spacing":7,"hconcat":[
{"width":270,"height":186,"encoding":{"x":{"field":"x","type":"quantitative","scale":{"domain":[0,239],"nice":false},"axis":null},"y":{"field":"y","type":"quantitative","scale":{"domain":[0,100],"nice":false},"axis":null}},
"layer":[{"data":{"name":"core"},"mark":{"type":"rect","color":"#0072BD","clip":true},"encoding":{"x":{"field":"x0","type":"quantitative","axis":null},"x2":{"field":"x1"},"y":{"field":"lo","type":"quantitative","axis":null},"y2":{"field":"hi"}}},
{"data":{"name":"p3"},"mark":{"type":"line","color":"#0072BD","strokeWidth":1.3,"strokeJoin":"round","clip":true}},
{"data":{"values":[{"x":59.0,"y":81.7},{"x":48.4,"y":87.6},{"x":36.2,"y":91.4},{"x":19.4,"y":92.8}]},"mark":{"type":"line","color":"#d40f0f","strokeWidth":2.2,"interpolate":"monotone","clip":true}},
{"data":{"values":[{"x":19.4,"y":92.8}]},"mark":{"type":"point","shape":"triangle-left","filled":true,"opacity":1,"color":"#d40f0f","size":130,"angle":12,"clip":true}}]},
{"width":270,"height":186,"encoding":{"x":{"field":"x","type":"quantitative","scale":{"domain":[0,239],"nice":false},"axis":null},"y":{"field":"y","type":"quantitative","scale":{"domain":[0,100],"nice":false},"axis":null}},
"layer":[{"data":{"name":"core"},"mark":{"type":"rect","color":"#0072BD","clip":true},"encoding":{"x":{"field":"x0","type":"quantitative","axis":null},"x2":{"field":"x1"},"y":{"field":"lo","type":"quantitative","axis":null},"y2":{"field":"hi"}}},
{"data":{"name":"p4"},"mark":{"type":"line","color":"#0072BD","strokeWidth":1.3,"strokeJoin":"round","clip":true}},
{"data":{"values":[{"x":63.4,"y":79.9},{"x":52.8,"y":86.0},{"x":40.6,"y":89.8},{"x":23.8,"y":91.3}]},"mark":{"type":"line","color":"#d40f0f","strokeWidth":2.2,"interpolate":"monotone","clip":true}},
{"data":{"values":[{"x":23.8,"y":91.3}]},"mark":{"type":"point","shape":"triangle-left","filled":true,"opacity":1,"color":"#d40f0f","size":130,"angle":12,"clip":true}}]}
]}
]},
{"spacing":13,"title":{"text":["(b) Shifted (circularly) according to the distance from","the receiver to the corresponding satellite."],"orient":"bottom","anchor":"middle","offset":40,"dx":-7},
"vconcat":[
{"spacing":7,"hconcat":[
{"width":270,"height":186,"encoding":{"x":{"field":"x","type":"quantitative","scale":{"domain":[0,239],"nice":false},"axis":null},"y":{"field":"y","type":"quantitative","scale":{"domain":[0,100],"nice":false},"axis":null}},
"layer":[{"data":{"name":"core"},"mark":{"type":"rect","color":"#0072BD","clip":true},"encoding":{"x":{"field":"x0","type":"quantitative","axis":null},"x2":{"field":"x1"},"y":{"field":"lo","type":"quantitative","axis":null},"y2":{"field":"hi"}}},
{"data":{"name":"p5"},"mark":{"type":"line","color":"#0072BD","strokeWidth":1.3,"strokeJoin":"round","clip":true}},
{"data":{"values":[{"x":141.0,"y":84.8},{"x":151.6,"y":90.9},{"x":163.8,"y":94.5},{"x":180.6,"y":96.1}]},"mark":{"type":"line","color":"#d40f0f","strokeWidth":2.2,"interpolate":"monotone","clip":true}},
{"data":{"values":[{"x":180.6,"y":96.1}]},"mark":{"type":"point","shape":"triangle-right","filled":true,"opacity":1,"color":"#d40f0f","size":130,"angle":-12,"clip":true}}]},
{"width":270,"height":186,"encoding":{"x":{"field":"x","type":"quantitative","scale":{"domain":[0,239],"nice":false},"axis":null},"y":{"field":"y","type":"quantitative","scale":{"domain":[0,100],"nice":false},"axis":null}},
"layer":[{"data":{"name":"core"},"mark":{"type":"rect","color":"#0072BD","clip":true},"encoding":{"x":{"field":"x0","type":"quantitative","axis":null},"x2":{"field":"x1"},"y":{"field":"lo","type":"quantitative","axis":null},"y2":{"field":"hi"}}},
{"data":{"name":"p6"},"mark":{"type":"line","color":"#0072BD","strokeWidth":1.3,"strokeJoin":"round","clip":true}},
{"data":{"values":[{"x":138.4,"y":83.3},{"x":149.8,"y":89.5},{"x":163.0,"y":93.1},{"x":179.0,"y":94.5}]},"mark":{"type":"line","color":"#d40f0f","strokeWidth":2.2,"interpolate":"monotone","clip":true}},
{"data":{"values":[{"x":179.0,"y":94.5}]},"mark":{"type":"point","shape":"triangle-right","filled":true,"opacity":1,"color":"#d40f0f","size":130,"angle":-10,"clip":true}}]}
]},
{"spacing":7,"hconcat":[
{"width":270,"height":186,"encoding":{"x":{"field":"x","type":"quantitative","scale":{"domain":[0,239],"nice":false},"axis":null},"y":{"field":"y","type":"quantitative","scale":{"domain":[0,100],"nice":false},"axis":null}},
"layer":[{"data":{"name":"core"},"mark":{"type":"rect","color":"#0072BD","clip":true},"encoding":{"x":{"field":"x0","type":"quantitative","axis":null},"x2":{"field":"x1"},"y":{"field":"lo","type":"quantitative","axis":null},"y2":{"field":"hi"}}},
{"data":{"name":"p7"},"mark":{"type":"line","color":"#0072BD","strokeWidth":1.3,"strokeJoin":"round","clip":true}},
{"data":{"values":[{"x":141.0,"y":80.8},{"x":151.6,"y":86.6},{"x":163.8,"y":90.2},{"x":180.6,"y":91.8}]},"mark":{"type":"line","color":"#d40f0f","strokeWidth":2.2,"interpolate":"monotone","clip":true}},
{"data":{"values":[{"x":180.6,"y":91.8}]},"mark":{"type":"point","shape":"triangle-right","filled":true,"opacity":1,"color":"#d40f0f","size":130,"angle":-12,"clip":true}}]},
{"width":270,"height":186,"encoding":{"x":{"field":"x","type":"quantitative","scale":{"domain":[0,239],"nice":false},"axis":null},"y":{"field":"y","type":"quantitative","scale":{"domain":[0,100],"nice":false},"axis":null}},
"layer":[{"data":{"name":"core"},"mark":{"type":"rect","color":"#0072BD","clip":true},"encoding":{"x":{"field":"x0","type":"quantitative","axis":null},"x2":{"field":"x1"},"y":{"field":"lo","type":"quantitative","axis":null},"y2":{"field":"hi"}}},
{"data":{"name":"p8"},"mark":{"type":"line","color":"#0072BD","strokeWidth":1.3,"strokeJoin":"round","clip":true}},
{"data":{"values":[{"x":139.2,"y":80.1},{"x":149.8,"y":85.8},{"x":163.0,"y":89.6},{"x":179.0,"y":91.2}]},"mark":{"type":"line","color":"#d40f0f","strokeWidth":2.2,"interpolate":"monotone","clip":true}},
{"data":{"values":[{"x":179.0,"y":91.2}]},"mark":{"type":"point","shape":"triangle-right","filled":true,"opacity":1,"color":"#d40f0f","size":130,"angle":-12,"clip":true}}]}
]}
]}
]
}
